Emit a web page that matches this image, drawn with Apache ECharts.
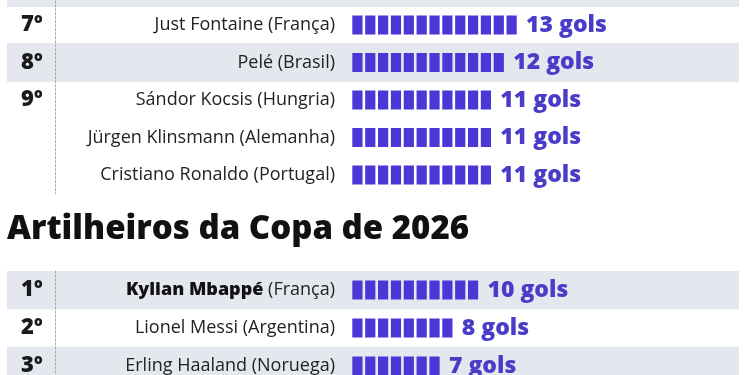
<!DOCTYPE html>
<html>
<head>
<meta charset="utf-8">
<script src="https://cdn.jsdelivr.net/npm/echarts@6/dist/echarts.min.js"></script>
<style>
  html, body { margin: 0; padding: 0; background: #fff; }
  #chart { width: 750px; height: 375px; }
</style>
</head>
<body>
<div id="chart"></div>
<script>
// all-time ranking (top part is cropped)
const topRanks = ['6º', '7º', '8º', '9º', '', '']
const topNames = [
  'Gerd Müller (Alemanha)',
  'Just Fontaine (França)',
  'Pelé (Brasil)',
  'Sándor Kocsis (Hungria)',
  'Jürgen Klinsmann (Alemanha)',
  'Cristiano Ronaldo (Portugal)',
]
const topGoals = [14, 13, 12, 11, 11, 11]
const topShaded = [1, 0, 1, 0, 0, 0]

// 2026 cup
const title2026 = 'Artilheiros da Copa de 2026'
const bottomRanks = ['1º', '2º', '3º']
const bottomPlayers = ['Kylian Mbappé', 'Lionel Messi', 'Erling Haaland']
const bottomCountries = ['França', 'Argentina', 'Noruega']
const bottomGoals = [10, 8, 7]
const bottomShaded = [1, 0, 1]
const boldPlayers = ['Kylian Mbappé']

const FONT = 'Open Sans'
const PURPLE = '#4b36d6'
const LABEL_PURPLE = '#4a3bc8'
const BAND = '#e4e8ee'
const UNITS = 20 // blocks that fit the bar grid width
const PITCH = 12.85

const chart = echarts.init(document.getElementById('chart'))

function bandGrid(top, height) {
  return { left: 7, right: 11, top, height, outerBoundsMode: 'none' }
}
function barGrid(top, height) {
  return { left: 351, width: UNITS * PITCH, top, height, outerBoundsMode: 'none' }
}

function rankAxis(gridIndex, ranks) {
  return {
    type: 'category',
    gridIndex,
    inverse: true,
    z: 10,
    data: ranks.map((r, i) => String(i)),
    offset: -48,
    axisLine: { show: true, lineStyle: { color: '#a9a9a9', type: [2, 2], width: 1 } },
    axisTick: { show: false },
    axisLabel: {
      align: 'left',
      margin: 34,
      fontFamily: FONT,
      fontWeight: 800,
      fontSize: 22,
      color: '#1a1a1a',
      formatter: (v, i) => ranks[i],
    },
  }
}

function nameAxis(gridIndex, names, formatter) {
  return {
    type: 'category',
    gridIndex,
    inverse: true,
    z: 10,
    data: names,
    axisLine: { show: false },
    axisTick: { show: false },
    axisLabel: {
      margin: 16,
      fontFamily: FONT,
      fontSize: 18,
      color: '#222',
      formatter,
      rich: {
        b: { fontFamily: FONT, fontSize: 18, fontWeight: 800, color: '#111' },
        n: { fontFamily: FONT, fontSize: 18, color: '#222' },
      },
    },
  }
}

function bandSeries(idx, shaded) {
  return {
    type: 'bar',
    xAxisIndex: idx,
    yAxisIndex: idx,
    silent: true,
    z: 1,
    barWidth: 39,
    itemStyle: { color: BAND },
    data: shaded.map(s => (s ? 1 : '-')),
  }
}

function blockSeries(idx, goals) {
  return {
    type: 'pictorialBar',
    xAxisIndex: idx,
    yAxisIndex: idx,
    z: 5,
    symbol: 'rect',
    symbolRepeat: true,
    symbolSize: [10.2, 19],
    // slightly wider than PITCH so each goal gives exactly one block
    symbolMargin: '1.33!',
    itemStyle: { color: PURPLE },
    label: {
      show: true,
      position: 'right',
      distance: 8,
      fontFamily: FONT,
      fontWeight: 800,
      fontSize: 23,
      color: LABEL_PURPLE,
      formatter: p => p.value + ' gols',
    },
    data: goals,
  }
}

const hiddenX = (gridIndex, max) => ({ type: 'value', gridIndex, min: 0, max, show: false })

chart.setOption({
  animation: false,
  textStyle: { fontFamily: FONT },
  title: {
    text: title2026,
    left: 7,
    top: 213,
    padding: 0,
    textStyle: { fontFamily: FONT, fontSize: 33, fontWeight: 800, color: '#111' },
  },
  grid: [
    bandGrid(-31.25, 225),
    barGrid(-31.25, 225),
    bandGrid(271, 114),
    barGrid(271, 114),
  ],
  xAxis: [hiddenX(0, 1), hiddenX(1, UNITS), hiddenX(2, 1), hiddenX(3, UNITS)],
  yAxis: [
    rankAxis(0, topRanks),
    nameAxis(1, topNames),
    rankAxis(2, bottomRanks),
    nameAxis(3, bottomPlayers, (v, i) => {
      const tag = boldPlayers.includes(v) ? 'b' : 'n'
      return `{${tag}|${v}} {n|(${bottomCountries[i]})}`
    }),
  ],
  series: [
    bandSeries(0, topShaded),
    bandSeries(2, bottomShaded),
    blockSeries(1, topGoals),
    blockSeries(3, bottomGoals),
  ],
})
</script>
</body>
</html>
